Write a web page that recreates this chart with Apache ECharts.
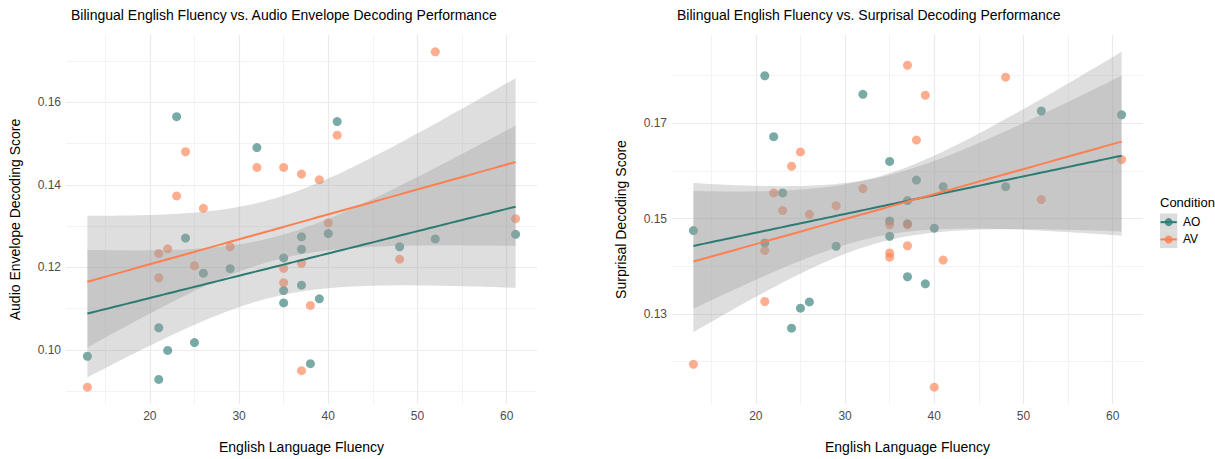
<!DOCTYPE html>
<html>
<head>
<meta charset="utf-8">
<script src="https://cdn.jsdelivr.net/npm/echarts@6/dist/echarts.min.js"></script>
<style>
html,body{margin:0;padding:0;background:#fff;}
#chart{width:1215px;height:459px;}
</style>
</head>
<body>
<div id="chart"></div>
<script>
// ---------------- DATA ----------------
const fluency = [13,21,21,22,23,24,25,26,29,32,35,35,35,37,37,37,38,39,40,41,48,52,61];
const envelopeAO = [0.0985,0.1054,0.0929,0.0999,0.1565,0.1271,0.1018,0.1186,0.1197,0.1490,0.1223,0.1144,0.1114,0.1274,0.1244,0.1157,0.0967,0.1124,0.1282,0.1553,0.1250,0.1269,0.1280];
const envelopeAV = [0.0910,0.1234,0.1175,0.1245,0.1373,0.1480,0.1204,0.1343,0.1250,0.1442,0.1442,0.1198,0.1163,0.1426,0.1210,0.0950,0.1108,0.1412,0.1308,0.1520,0.1220,0.1722,0.1318];
const surprisalAO = [0.1475,0.1800,0.1449,0.1672,0.1554,0.1270,0.1312,0.1325,0.1442,0.1761,0.1620,0.1495,0.1463,0.1538,0.1489,0.1378,0.1581,0.1363,0.1480,0.1567,0.1567,0.1726,0.1718];
const surprisalAV = [0.1194,0.1433,0.1326,0.1554,0.1517,0.1610,0.1640,0.1509,0.1527,0.1563,0.1487,0.1428,0.1419,0.1822,0.1487,0.1443,0.1665,0.1759,0.1146,0.1413,0.1797,0.1540,0.1624];
const conditions = ['AO','AV'];
const surprisalMajorTicks = [0.13, 0.15, 0.17];
const surprisalMinorTicks = [0.12, 0.14, 0.16, 0.18];
const titles = ['Bilingual English Fluency vs. Audio Envelope Decoding Performance','Bilingual English Fluency vs. Surprisal Decoding Performance'];
const yNames = ['Audio Envelope Decoding Score','Surprisal Decoding Score'];
const xName = 'English Language Fluency';

// ---------------- STYLE ----------------
const COL = {AO:'#2E7B74', AV:'#FF7F50'};
const PT = {AO:'rgba(46,123,116,0.8)', AV:'rgba(255,127,80,0.8)'};
const RIBBON = 'rgba(153,153,153,0.32)';
const FONT = '"Liberation Sans", Arial, Helvetica, sans-serif';
const T975 = 2.079614; // qt(0.975, df = 21)

// linear model fit with 95% confidence band (like geom_smooth(method = "lm"))
function lmBand(xs, ys) {
  const n = xs.length;
  const mx = xs.reduce((a,b)=>a+b,0)/n, my = ys.reduce((a,b)=>a+b,0)/n;
  let sxx=0, sxy=0;
  for (let i=0;i<n;i++){ sxx+=(xs[i]-mx)**2; sxy+=(xs[i]-mx)*(ys[i]-my); }
  const b = sxy/sxx, a = my - b*mx;
  let sse=0; for (let i=0;i<n;i++) sse += (ys[i]-a-b*xs[i])**2;
  const s = Math.sqrt(sse/(n-2));
  const x0 = Math.min(...xs), x1 = Math.max(...xs);
  const out = [];
  for (let k=0;k<80;k++){
    const x = x0 + (x1-x0)*k/79;
    const yh = a + b*x;
    const se = s*Math.sqrt(1/n + (x-mx)**2/sxx);
    out.push([x, yh, yh - T975*se, yh + T975*se]);
  }
  return out;
}

const panels = [
  {AO: envelopeAO, AV: envelopeAV},
  {AO: surprisalAO, AV: surprisalAV}
];
panels.forEach(p => { p.bandAO = lmBand(fluency, p.AO); p.bandAV = lmBand(fluency, p.AV); });

function expand(lo, hi){ const d=(hi-lo)*0.05; return [lo-d, hi+d]; }
const xLim = expand(Math.min(...fluency), Math.max(...fluency));
panels.forEach(p => {
  const vals = p.AO.concat(p.AV);
  p.bandAO.concat(p.bandAV).forEach(r => { vals.push(r[2]); vals.push(r[3]); });
  p.yLim = expand(Math.min(...vals), Math.max(...vals));
});

const grids = [
  {left:66, top:35, width:471, height:373},
  {left:672, top:35, width:471, height:373}
];

const MAJOR = {color:'#EBEBEB', width:1.2};
const MINOR = {color:'#F3F3F3', width:1};

const xAxes = grids.map((g,i)=>({
  type:'value', gridIndex:i, min:xLim[0], max:xLim[1], splitNumber:5,
  name:xName, nameLocation:'middle', nameGap:36,
  nameTextStyle:{fontSize:14, color:'#000', fontFamily:FONT},
  axisLine:{show:false}, axisTick:{show:false},
  axisLabel:{color:'#4D4D4D', fontSize:12, margin:6, showMinLabel:false, showMaxLabel:false, fontFamily:FONT},
  splitLine:{show:true, showMinLine:false, showMaxLine:false, lineStyle:MAJOR},
  minorTick:{show:false, splitNumber:2},
  minorSplitLine:{show:true, lineStyle:MINOR}
}));

const yAxes = [
  {
    type:'value', gridIndex:0, min:panels[0].yLim[0], max:panels[0].yLim[1], splitNumber:5,
    name:yNames[0], nameLocation:'middle', nameGap:44,
    nameTextStyle:{fontSize:14, color:'#000', fontFamily:FONT},
    axisLine:{show:false}, axisTick:{show:false},
    axisLabel:{color:'#4D4D4D', fontSize:12, margin:5, showMinLabel:false, showMaxLabel:false,
               formatter:v=>v.toFixed(2), fontFamily:FONT},
    splitLine:{show:true, showMinLine:false, showMaxLine:false, lineStyle:MAJOR},
    minorTick:{show:false, splitNumber:2},
    minorSplitLine:{show:true, lineStyle:MINOR}
  },
  {
    type:'value', gridIndex:1, min:panels[1].yLim[0], max:panels[1].yLim[1],
    name:yNames[1], nameLocation:'middle', nameGap:44,
    nameTextStyle:{fontSize:14, color:'#000', fontFamily:FONT},
    axisLine:{show:false}, axisTick:{show:false},
    axisLabel:{show:false}, splitLine:{show:false}
  }
];

const series = [];
// right panel horizontal grid + labels (ticks at 0.13, 0.15, 0.17)
series.push({
  type:'line', xAxisIndex:1, yAxisIndex:1, data:[], silent:true,
  markLine:{
    silent:true, symbol:['none','none'], animation:false, z:0,
    data: surprisalMinorTicks.map(v=>({yAxis:v, lineStyle:Object.assign({type:'solid'},MINOR), label:{show:false}}))
      .concat(surprisalMajorTicks.map(v=>({yAxis:v, lineStyle:Object.assign({type:'solid'},MAJOR),
        label:{show:true, position:'start', formatter:v.toFixed(2), color:'#4D4D4D', fontSize:12, distance:5, fontFamily:FONT}})))
  }
});

panels.forEach((p,i)=>{
  conditions.forEach(c=>{
    series.push({
      type:'scatter', name:c, xAxisIndex:i, yAxisIndex:i, z:2,
      data: fluency.map((x,k)=>[x, p[c][k]]),
      symbolSize:9, itemStyle:{color:PT[c]}, silent:true
    });
  });
  conditions.forEach(c=>{
    const band = p['band'+c];
    series.push({
      type:'custom', xAxisIndex:i, yAxisIndex:i, z:3, silent:true,
      data: band.map(r=>[r[0], r[2], r[3]]),
      encode:{x:0, y:[1,2]},
      renderItem:(params, api)=>{
        if (params.dataIndex !== 0) return null;
        const up = band.map(r=>api.coord([r[0], r[3]]));
        const lo = band.map(r=>api.coord([r[0], r[2]])).reverse();
        return {type:'polygon', shape:{points:up.concat(lo)}, style:{fill:RIBBON}};
      }
    });
    series.push({
      type:'line', xAxisIndex:i, yAxisIndex:i, z:3, silent:true,
      data: band.map(r=>[r[0], r[1]]),
      showSymbol:false, symbol:'none',
      lineStyle:{color:COL[c], width:2}
    });
  });
});

// legend drawn as ggplot-style key
const legendGraphic = [
  {type:'text', x:1160, y:202, style:{text:'Condition', fontSize:13, fill:'#000', font:'13px '+FONT, verticalAlign:'middle'}}
];
conditions.forEach((c,i)=>{
  const y0 = 213.5 + i*17.3;
  legendGraphic.push({type:'rect', shape:{x:1160, y:y0, width:17.3, height:17.3}, style:{fill:'#DCDCDC'}});
  legendGraphic.push({type:'line', shape:{x1:1160.5, y1:y0+8.65, x2:1176.8, y2:y0+8.65}, style:{stroke:COL[c], lineWidth:2}});
  legendGraphic.push({type:'circle', shape:{cx:1168.65, cy:y0+8.65, r:4}, style:{fill:PT[c]}});
  legendGraphic.push({type:'text', x:1183, y:y0+8.65, style:{text:c, font:'12px '+FONT, fill:'#000', verticalAlign:'middle'}});
});

const chart = echarts.init(document.getElementById('chart'), null, {renderer:'svg'});
chart.setOption({
  animation:false,
  textStyle:{fontFamily:FONT},
  title: titles.map((t,i)=>({text:t, left:grids[i].left, top:3,
    textStyle:{fontSize:14, fontWeight:'normal', color:'#000', fontFamily:FONT}})),
  grid: grids,
  xAxis: xAxes,
  yAxis: yAxes,
  series: series,
  graphic: legendGraphic
});
</script>
</body>
</html>
